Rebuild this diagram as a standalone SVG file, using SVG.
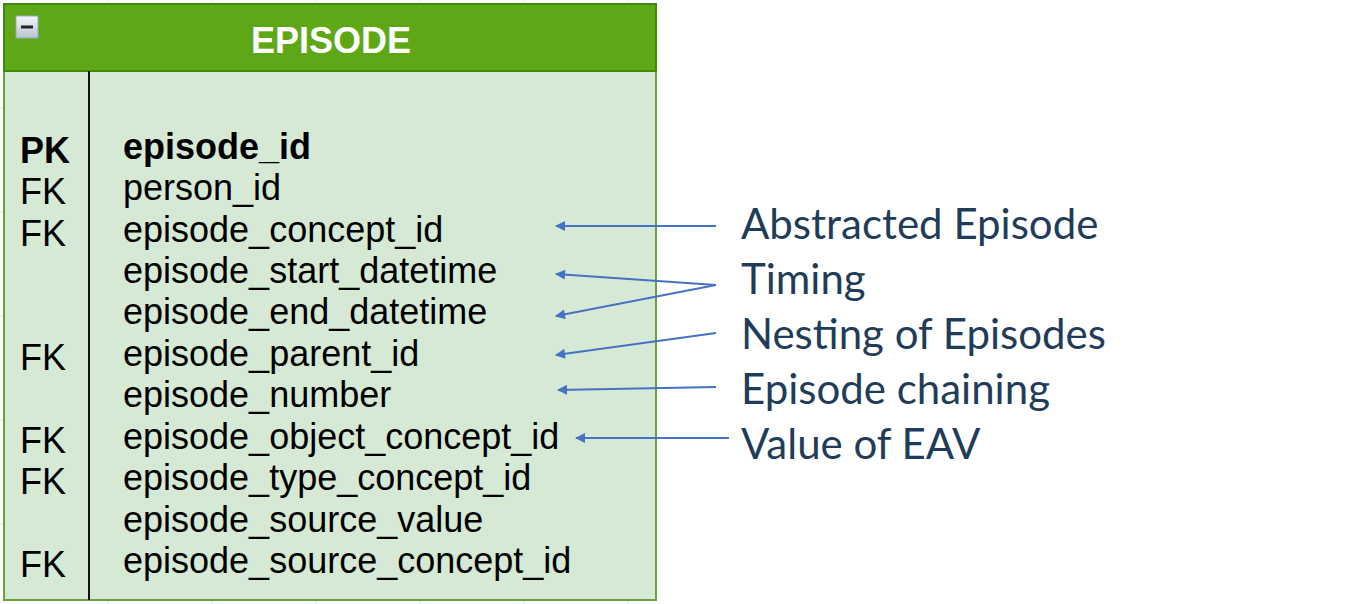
<svg xmlns="http://www.w3.org/2000/svg" width="1356" height="604" viewBox="0 0 1356 604">
<defs>
<style>
.grid{stroke:#e3e3e3;stroke-width:1}
.f{font-family:"Liberation Sans",Arial,sans-serif;font-size:36px;fill:#000}
.b{font-weight:bold}
.lbl{font-family:Lato,"Open Sans",sans-serif;font-size:42px;fill:#1f3d5a}
.arr{stroke:#4472c4;stroke-width:1.8;fill:none;marker-end:url(#ah)}
</style>
<marker id="ah" viewBox="0 0 10 10" refX="9" refY="5" markerWidth="11" markerHeight="10" markerUnits="userSpaceOnUse" orient="auto">
<path d="M0,0 L10,5 L0,10 z" fill="#4472c4"/>
</marker>
<linearGradient id="ig" x1="0" y1="0" x2="0" y2="1">
<stop offset="0" stop-color="#f4f6fa"/>
<stop offset="1" stop-color="#b9c3d3"/>
</linearGradient>
</defs>
<rect width="1356" height="604" fill="#fff"/>
<g id="grid">
<path class="grid" d="M108,0V604M212,0V604M316,0V604M420,0V604M524,0V604M628,0V604M0,108H6M0,212H6M0,316H6M0,420H6M0,524H6"/>
</g>
<g id="episode-table">
<rect x="4" y="4" width="652" height="596" fill="#d6e9d5" stroke="#6aa13c" stroke-width="2"/>
<rect x="4" y="4" width="652" height="67" fill="#5ea818" stroke="#3f8a0b" stroke-width="2"/>
<rect x="16" y="16" width="22" height="22" fill="url(#ig)" stroke="#9aa7bb" stroke-width="1"/>
<line x1="21" y1="27" x2="33" y2="27" stroke="#222" stroke-width="3"/>
<text x="331" y="53" text-anchor="middle" font-family="Liberation Sans,Arial,sans-serif" font-size="36" font-weight="bold" fill="#fff">EPISODE</text>
<line x1="89" y1="71" x2="89" y2="600" stroke="#111" stroke-width="2"/>
<text class="f b" x="20" y="163">PK</text>
<text class="f" x="20" y="204">FK</text>
<text class="f" x="20" y="246">FK</text>
<text class="f" x="20" y="370">FK</text>
<text class="f" x="20" y="453">FK</text>
<text class="f" x="20" y="494">FK</text>
<text class="f" x="20" y="577">FK</text>
<text class="f b" x="123" y="159">episode_id</text>
<text class="f" x="123" y="200">person_id</text>
<text class="f" x="123" y="242">episode_concept_id</text>
<text class="f" x="123" y="283">episode_start_datetime</text>
<text class="f" x="123" y="324">episode_end_datetime</text>
<text class="f" x="123" y="366">episode_parent_id</text>
<text class="f" x="123" y="407">episode_number</text>
<text class="f" x="123" y="449">episode_object_concept_id</text>
<text class="f" x="123" y="490">episode_type_concept_id</text>
<text class="f" x="123" y="532">episode_source_value</text>
<text class="f" x="123" y="573">episode_source_concept_id</text>
</g>
<g id="labels">
<text class="lbl" x="741" y="239">Abstracted Episode</text>
<text class="lbl" x="741" y="294">Timing</text>
<text class="lbl" x="741" y="349">Nesting of Episodes</text>
<text class="lbl" x="741" y="404">Episode chaining</text>
<text class="lbl" x="741" y="459">Value of EAV</text>
</g>
<g id="connectors">
<line class="arr" x1="716" y1="226" x2="556" y2="226"/>
<line class="arr" x1="716" y1="285" x2="556" y2="274"/>
<line class="arr" x1="716" y1="285" x2="556" y2="316"/>
<line class="arr" x1="716" y1="333" x2="556" y2="355"/>
<line class="arr" x1="716" y1="387" x2="558" y2="390"/>
<line class="arr" x1="729" y1="438" x2="576" y2="438"/>
</g>
</svg>
